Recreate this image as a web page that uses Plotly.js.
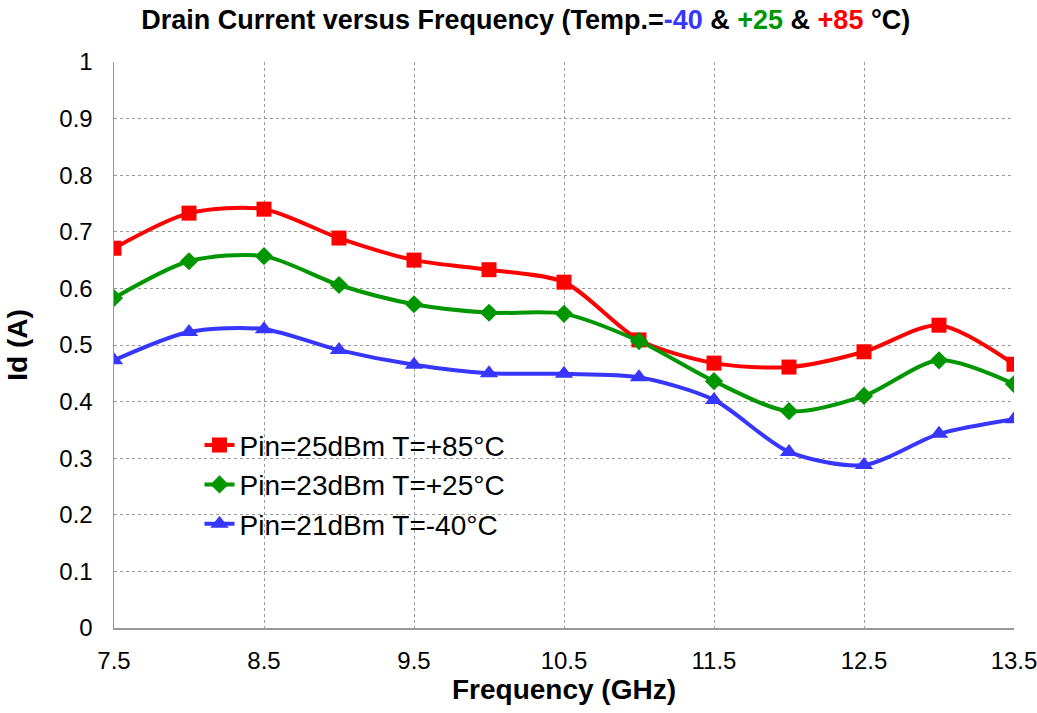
<!DOCTYPE html>
<html>
<head>
<meta charset="utf-8">
<script src="https://cdn.plot.ly/plotly-3.0.1.min.js"></script>
<style>
  html, body { margin: 0; padding: 0; background: #fff; }
  #chart { width: 1037px; height: 713px; }
</style>
</head>
<body>
<div id="chart"></div>
<script>
// Frequency points (GHz)
const freqGHz = [7.5, 8, 8.5, 9, 9.5, 10, 10.5, 11, 11.5, 12, 12.5, 13, 13.5];

// Drain current (A) per temperature / input power condition
const idHot  = [0.671, 0.733, 0.740, 0.689, 0.650, 0.633, 0.611, 0.509, 0.468, 0.461, 0.488, 0.535, 0.466];
const idRoom = [0.583, 0.648, 0.657, 0.606, 0.572, 0.557, 0.555, 0.507, 0.436, 0.383, 0.410, 0.473, 0.431];
const idCold = [0.473, 0.523, 0.528, 0.491, 0.465, 0.450, 0.449, 0.443, 0.403, 0.311, 0.288, 0.343, 0.369];

const seriesNames = ['Pin=25dBm T=+85°C', 'Pin=23dBm T=+25°C', 'Pin=21dBm T=-40°C'];
const xTicks = [7.5, 8.5, 9.5, 10.5, 11.5, 12.5, 13.5];

const RED = '#ff0000', GREEN = '#009600', BLUE = '#3636ff';

function series(y, name, color, symbol, size) {
  return {
    x: freqGHz, y: y, name: name, type: 'scatter', mode: 'lines+markers',
    line: { color: color, width: 4, shape: 'spline', smoothing: 0.8 },
    marker: { color: color, symbol: symbol, size: size }
  };
}

const data = [
  series(idHot,  seriesNames[0], RED,   'square',      15),
  series(idRoom, seriesNames[1], GREEN, 'diamond',     14),
  series(idCold, seriesNames[2], BLUE,  'triangle-up', 16)
];

const gridStyle = { showgrid: true, gridcolor: '#999', griddash: 'dot', gridwidth: 1 };

const layout = {
  width: 1037, height: 713,
  margin: { l: 114, r: 23, t: 62, b: 85 },
  paper_bgcolor: '#fff', plot_bgcolor: '#fff',
  font: { family: 'Arial, "Liberation Sans", sans-serif', color: '#000' },
  title: {
    text: 'Drain Current versus Frequency (Temp.=<span style="color:' + BLUE + '">-40</span> &amp; ' +
          '<span style="color:' + GREEN + '">+25</span> &amp; <span style="color:' + RED + '">+85</span> °C)',
    font: { family: '"Liberation Sans Narrow", "Arial Narrow", Arial, sans-serif', size: 27, weight: 'bold', color: '#000' },
    x: 0.507, xanchor: 'center', y: 0.972, yanchor: 'middle'
  },
  xaxis: Object.assign({
    range: [7.5, 13.5], tickvals: xTicks, ticktext: xTicks.map(v => v.toFixed(1)),
    showline: true, linecolor: '#999', linewidth: 1.5, zeroline: false,
    mirror: false, ticks: '', tickfont: { size: 24 }, ticklabelstandoff: 11,
    ticklabeloverflow: 'allow',
    title: { text: 'Frequency (GHz)', font: { size: 28, weight: 'bold' }, standoff: 6 }
  }, gridStyle),
  yaxis: Object.assign({
    range: [0, 1], dtick: 0.1, tick0: 0,
    showline: true, linecolor: '#999', linewidth: 1.5, zeroline: false,
    ticks: '', tickfont: { size: 24 }, ticklabelstandoff: 15,
    title: { text: 'Id (A)', font: { size: 28, weight: 'bold' }, standoff: 23 }
  }, gridStyle),
  showlegend: true,
  legend: {
    x: 0.095, y: 0.367, xanchor: 'left', yanchor: 'top',
    bgcolor: 'rgba(255,255,255,0)', borderwidth: 0,
    font: { size: 28, color: '#000' }, tracegroupgap: 0, itemwidth: 30
  }
};

Plotly.newPlot('chart', data, layout, { displayModeBar: false, staticPlot: true });
</script>
</body>
</html>
